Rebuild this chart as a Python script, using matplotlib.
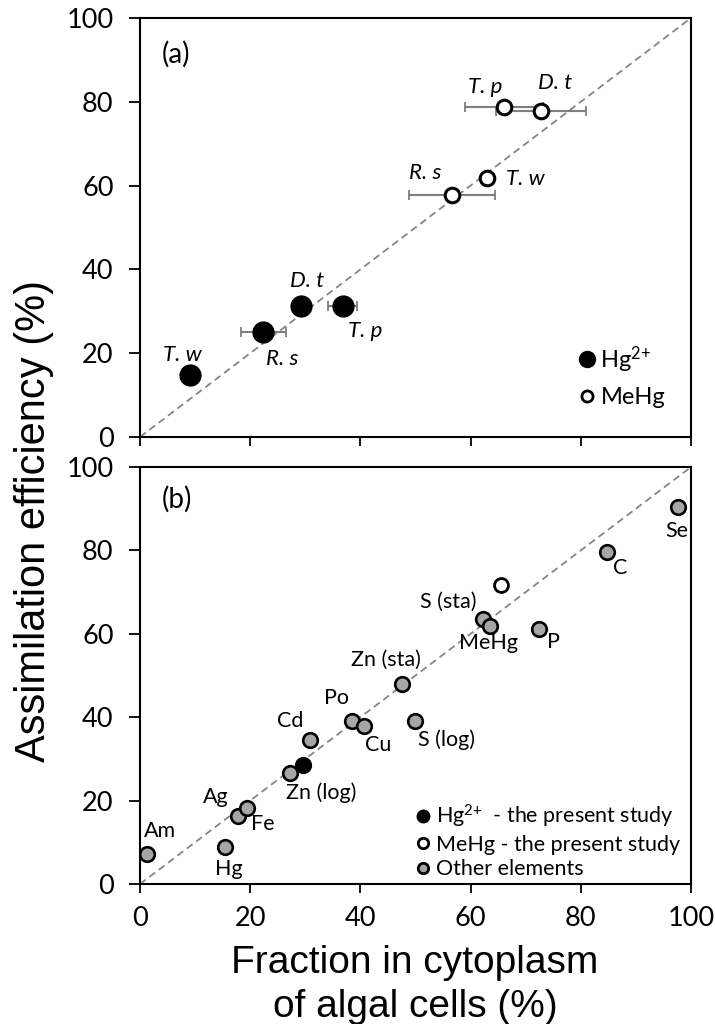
import matplotlib
matplotlib.use("Agg")
import matplotlib.pyplot as plt
from matplotlib.lines import Line2D

plt.rcParams['font.family'] = ['Lato', 'DejaVu Sans']
plt.rcParams['mathtext.default'] = 'regular'

# panel (a): present study, four algae
algae = ['T. w', 'R. s', 'D. t', 'T. p']
hg2_frac = [9.1, 22.4, 29.3, 36.8]
hg2_ae = [14.7, 25.1, 31.3, 31.3]
hg2_err = [0, 4.1, 0, 2.6]
hg2_lab_x = [7.6, 25.8, 30.3, 40.9]
hg2_lab_y = [19.6, 18.5, 37.2, 25.3]

mehg_frac = [63.0, 56.6, 72.8, 66.1]
mehg_ae = [61.7, 57.8, 77.9, 78.8]
mehg_err = [0, 7.8, 8.1, 7.1]
mehg_lab_x = [70.0, 51.7, 75.4, 62.6]
mehg_lab_y = [61.6, 62.9, 84.4, 83.6]

# panel (b): other elements from literature
elements = ['Se', 'C', 'S (sta)', 'MeHg', 'P', 'Zn (sta)', 'Po', 'Cu', 'S (log)',
            'Cd', 'Zn (log)', 'Ag', 'Fe', 'Am', 'Hg']
elem_frac = [97.6, 84.8, 62.2, 63.5, 72.5, 47.5, 38.4, 40.6, 49.9,
             30.9, 27.3, 17.8, 19.5, 1.2, 15.4]
elem_ae = [90.4, 79.6, 63.5, 61.9, 61.2, 47.9, 39.0, 37.9, 39.0,
           34.6, 26.5, 16.4, 18.3, 7.2, 8.8]
elem_lab_x = [97.4, 87.1, 56.0, 63.3, 75.1, 44.7, 35.7, 43.3, 55.7,
              27.2, 32.8, 13.7, 22.3, 3.6, 16.2]
elem_lab_y = [84.7, 75.7, 67.7, 57.7, 58.1, 53.7, 44.5, 33.3, 34.6,
              39.0, 21.8, 20.8, 14.4, 12.8, 3.6]

study_hg2 = (29.6, 28.6)
study_mehg = (65.5, 71.6)

grey = '#a6a6a6'
bar_grey = '#7f7f7f'

fig = plt.figure(figsize=(7.15, 10.24), dpi=100)
W, H = 715, 1024
ax1 = fig.add_axes([140 / W, 1 - 437 / H, 551 / W, 419 / H])
ax2 = fig.add_axes([140 / W, 1 - 884 / H, 551 / W, 417 / H])

for ax in (ax1, ax2):
    ax.plot([0, 100], [0, 100], ls=(0, (4, 2.5)), color='#858585', lw=1.3, zorder=1)
    ax.set_xlim(0, 100)
    ax.set_ylim(0, 100)
    ax.set_xticks(range(0, 101, 20))
    ax.set_yticks(range(0, 101, 20))
    ax.tick_params(direction='out', width=1.3, labelsize=19.5, colors='black')
    ax.tick_params(axis='x', length=6.5, pad=9)
    ax.tick_params(axis='y', length=8, pad=11)
    for s in ax.spines.values():
        s.set_linewidth(1.5)
ax1.tick_params(axis='x', labelbottom=False)

# panel (a)
ax1.errorbar(hg2_frac, hg2_ae, xerr=hg2_err, fmt='none', ecolor=bar_grey,
             elinewidth=1.5, capsize=3.5, capthick=1.3, zorder=2)
ax1.errorbar(mehg_frac, mehg_ae, xerr=mehg_err, fmt='none', ecolor=bar_grey,
             elinewidth=1.5, capsize=3.5, capthick=1.3, zorder=2)
ax1.plot(hg2_frac, hg2_ae, 'o', ms=15, mfc='black', mec='black', ls='none', zorder=3)
ax1.plot(mehg_frac, mehg_ae, 'o', ms=10.5, mfc='white', mec='black', mew=2.2, ls='none', zorder=3)
for name, x, y in zip(algae, hg2_lab_x, hg2_lab_y):
    ax1.text(x, y, name, style='italic', fontsize=16, ha='center', va='center')
for name, x, y in zip(algae, mehg_lab_x, mehg_lab_y):
    ax1.text(x, y, name, style='italic', fontsize=16, ha='center', va='center')
ax1.text(4.0, 91.4, '(a)', fontsize=20, va='center')

h1 = [Line2D([], [], marker='o', ls='none', ms=11.5, mfc='black', mec='black'),
      Line2D([], [], marker='o', ls='none', ms=8, mfc='white', mec='black', mew=2)]
ax1.legend(h1, ['Hg$^{2{+}}$', 'MeHg'], loc='center left', bbox_to_anchor=(0.78, 0.145),
           frameon=False, fontsize=17, handlelength=0.5, handletextpad=0.3,
           labelspacing=0.55, borderpad=0)

# panel (b)
ax2.plot(elem_frac, elem_ae, 'o', ms=10.5, mfc=grey, mec='black', mew=1.9, ls='none', zorder=3)
ax2.plot(*study_hg2, 'o', ms=10.5, mfc='black', mec='black', mew=1.9, zorder=3)
ax2.plot(*study_mehg, 'o', ms=10, mfc='white', mec='black', mew=2, zorder=3)
for name, x, y in zip(elements, elem_lab_x, elem_lab_y):
    ax2.text(x, y, name, fontsize=15.5, ha='center', va='center')
ax2.text(4.0, 92.3, '(b)', fontsize=20, va='center')

h2 = [Line2D([], [], marker='o', ls='none', ms=9, mfc='black', mec='black'),
      Line2D([], [], marker='o', ls='none', ms=7.5, mfc='white', mec='black', mew=2),
      Line2D([], [], marker='o', ls='none', ms=7.5, mfc=grey, mec='black', mew=2)]
ax2.legend(h2, ['Hg$^{2{+}}$  - the present study', 'MeHg - the present study', 'Other elements'],
           loc='center left', bbox_to_anchor=(0.485, 0.103), frameon=False, fontsize=15.5,
           handlelength=0.5, handletextpad=0.35, labelspacing=0.22, borderpad=0)

label_font = ['Liberation Sans', 'DejaVu Sans']
fig.text(34 / W, 1 - 521 / H, 'Assimilation efficiency (%)', rotation=90,
         ha='center', va='center', fontsize=30, family=label_font)
fig.text(415 / W, 1 - 973 / H, 'Fraction in cytoplasm', ha='center', va='baseline',
         fontsize=28, family=label_font)
fig.text(415 / W, 1 - 1017 / H, 'of algal cells (%)', ha='center', va='baseline',
         fontsize=28, family=label_font)

fig.savefig('out.png', dpi=100)
